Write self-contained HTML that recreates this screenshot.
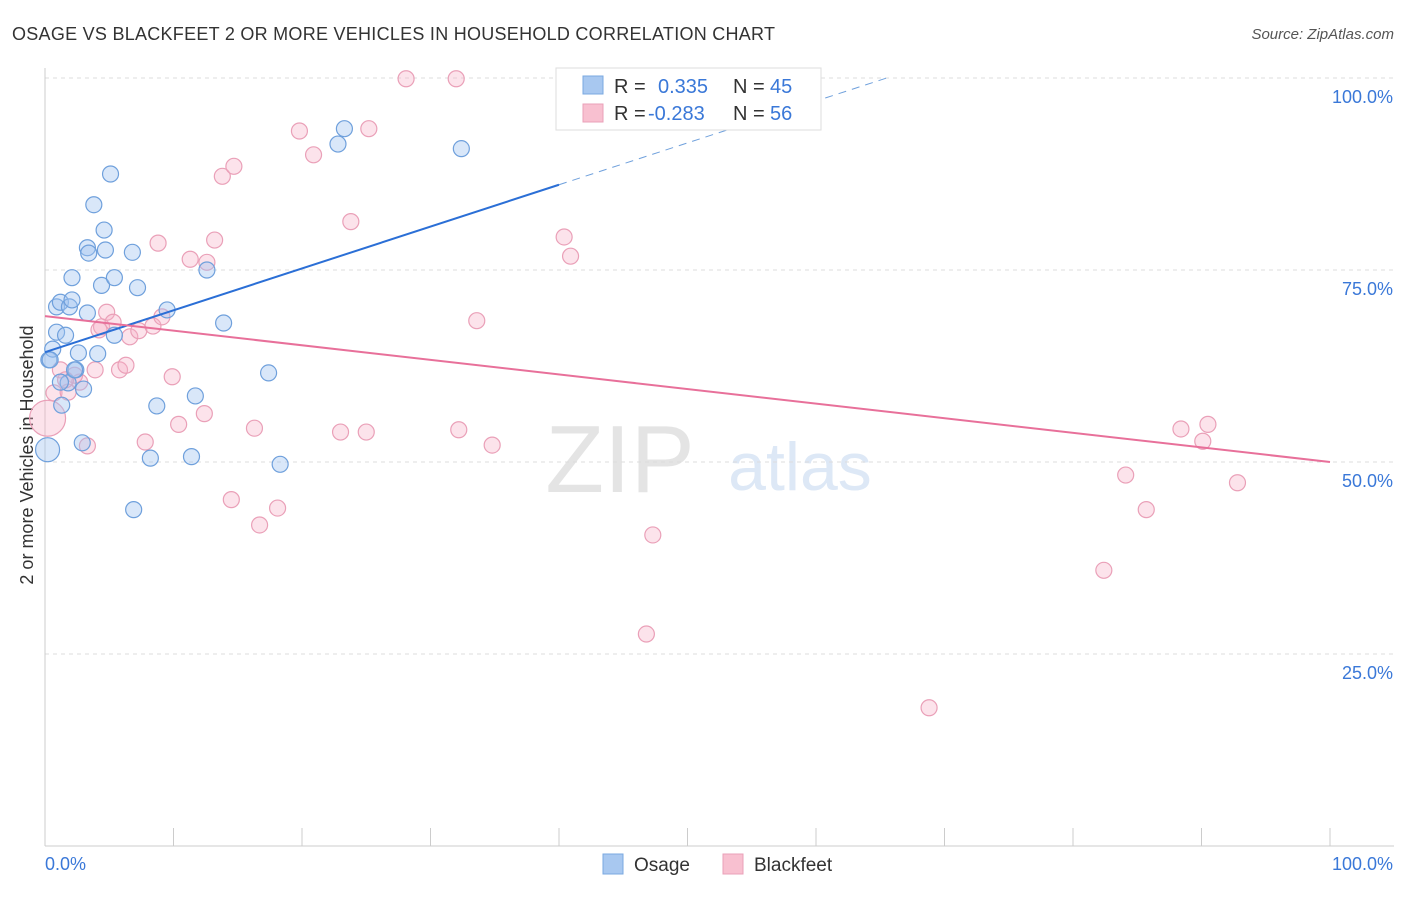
<!DOCTYPE html>
<html><head><meta charset="utf-8"><style>
body{margin:0;background:#fff;font-family:"Liberation Sans",sans-serif}
svg text{font-family:"Liberation Sans",sans-serif}
</style></head><body>
<svg id="c" width="1406" height="892">
<text x="12" y="40" font-size="18" fill="#333" textLength="763" lengthAdjust="spacing">OSAGE VS BLACKFEET 2 OR MORE VEHICLES IN HOUSEHOLD CORRELATION CHART</text>
<text x="1394" y="39" font-size="15" fill="#555" font-style="italic" text-anchor="end">Source: ZipAtlas.com</text>
<text x="620" y="492" font-size="96" fill="#e4e4e4" font-family="Liberation Serif" text-anchor="middle">ZIP</text>
<text x="800" y="490" font-size="68" fill="#dde8f6" text-anchor="middle">atlas</text>
<text transform="translate(33,455) rotate(-90)" font-size="18" fill="#333" text-anchor="middle">2 or more Vehicles in Household</text>
<g id="grid"></g><g id="marks"></g>
<g>
<rect x="556" y="68" width="265" height="62" fill="#fff" stroke="#ddd"/>
<rect x="583" y="76" width="20" height="18" fill="#a8c8f0" stroke="#7aa8e0"/>
<text x="614" y="93" font-size="20" fill="#333">R = </text><text x="658" y="93" font-size="20" fill="#3a78d8">0.335</text>
<text x="733" y="93" font-size="20" fill="#333">N = </text><text x="770" y="93" font-size="20" fill="#3a78d8">45</text>
<rect x="583" y="104" width="20" height="18" fill="#f8c0d0" stroke="#eaa0b8"/>
<text x="614" y="120" font-size="20" fill="#333">R = </text><text x="648" y="120" font-size="20" fill="#3a78d8">-0.283</text>
<text x="733" y="120" font-size="20" fill="#333">N = </text><text x="770" y="120" font-size="20" fill="#3a78d8">56</text>
</g>
<g>
<rect x="603" y="854" width="20" height="20" fill="#a8c8f0" stroke="#7aa8e0"/><text x="634" y="871" font-size="19" fill="#333">Osage</text>
<rect x="723" y="854" width="20" height="20" fill="#f8c0d0" stroke="#eaa0b8"/><text x="754" y="871" font-size="19" fill="#333">Blackfeet</text>
</g>
</svg>
<script>
const blueX=[0.2,0.3,0.6,0.9,0.9,1.2,1.3,1.6,1.8,1.9,2.1,2.1,2.4,2.6,2.9,3.0,3.3,3.3,3.4,3.8,4.1,4.4,4.6,4.7,5.1,5.4,5.4,6.8,6.9,7.2,8.2,8.7,9.5,11.4,11.7,12.6,13.9,17.4,18.3,22.8,23.3,32.4,2.3,1.2,0.4];
const blueY=[51.6,63.3,64.7,70.2,66.9,70.8,57.4,66.5,60.3,70.2,74.0,71.1,62.0,64.2,52.5,59.5,69.4,77.9,77.2,83.5,64.1,73.0,80.2,77.6,87.5,74.0,66.5,77.3,43.8,72.7,50.5,57.3,69.8,50.7,58.6,75.0,68.1,61.6,49.7,91.4,93.4,90.8,62.0,60.4,63.3];
const pinkX=[0.2,0.7,1.2,1.8,2.7,3.3,3.9,4.4,4.8,5.3,5.8,6.3,6.6,7.3,7.8,8.4,8.8,9.1,9.9,10.4,11.3,12.4,12.6,13.2,13.8,14.5,14.7,16.3,16.7,18.1,19.8,20.9,23.0,23.8,25.0,25.2,28.1,32.0,32.2,33.6,34.8,40.4,40.9,46.8,47.3,68.8,82.4,84.1,85.7,88.4,90.1,90.5,92.8,4.2,2.3,1.6];
const pinkY=[55.7,59.0,62.0,59.1,60.4,52.1,62.0,67.6,69.5,68.2,62.0,62.6,66.3,67.1,52.6,67.7,78.5,68.9,61.1,54.9,76.4,56.3,76.0,78.9,87.2,45.1,88.5,54.4,41.8,44.0,93.1,90.0,53.9,81.3,53.9,93.4,99.9,99.9,54.2,68.4,52.2,79.3,76.8,27.6,40.5,18.0,35.9,48.3,43.8,54.3,52.7,54.9,47.3,67.2,61.3,60.7];
const yTicks=[25,50,75,100];
const xTicks=[0,10,20,30,40,50,60,70,80,90,100];
const blueTrend=[64.3,86.1,40];const pinkTrend=[69.0,50.0];
const X=v=>45+v*12.85, Y=v=>846-v*7.68;
const NS="http://www.w3.org/2000/svg";
function mk(t,a,p){const e=document.createElementNS(NS,t);for(const k in a)e.setAttribute(k,a[k]);p.appendChild(e);return e;}
const g=document.getElementById('grid'),m=document.getElementById('marks');
yTicks.forEach(t=>{
 const l=mk('line',{x1:45,x2:1394,y1:Y(t),y2:Y(t),stroke:'#ddd','stroke-dasharray':'4,4'},g);
 
 
 const tx=mk('text',{x:1393,y:Y(t)+25,'font-size':18,fill:'#3a78d8','text-anchor':'end'},g);tx.textContent=t.toFixed(1)+'%';
 
 
});
const ax=mk('line',{x1:45,x2:45,y1:68,y2:846,stroke:'#ccc'},g);


const bx=mk('line',{x1:45,x2:1394,y1:846,y2:846,stroke:'#ccc'},g);


xTicks.forEach(t=>{const l=mk('line',{x1:X(t),x2:X(t),y1:828,y2:846,stroke:'#ccc'},g);
 
 });
[[0,'0.0%','start',45],[100,'100.0%','end',1393]].forEach(a=>{const tx=mk('text',{x:a[3],y:870,'font-size':18,fill:'#3a78d8','text-anchor':a[2]},g);tx.textContent=a[1];
 
 });
pinkX.forEach((v,i)=>{const c=mk('circle',{cx:X(v),cy:Y(pinkY[i]),r:i==0?18:8,fill:'rgba(245,175,198,0.35)',stroke:'#eaa0b8','stroke-width':1.2},m);
 
 });
blueX.forEach((v,i)=>{const c=mk('circle',{cx:X(v),cy:Y(blueY[i]),r:i==0?12:8,fill:'rgba(160,196,240,0.4)',stroke:'#6fa0dc','stroke-width':1.2},m);
 
 });
const bs=(blueTrend[1]-blueTrend[0])/blueTrend[2];
const t1=mk('line',{x1:X(0),y1:Y(blueTrend[0]),x2:X(blueTrend[2]),y2:Y(blueTrend[1]),stroke:'#2b6fd6','stroke-width':2},m);


const xe=(100-blueTrend[0])/bs;
const t2=mk('line',{x1:X(blueTrend[2]),y1:Y(blueTrend[1]),x2:X(xe),y2:Y(100),stroke:'#6fa0dc','stroke-width':1,'stroke-dasharray':'8,6'},m);


const t3=mk('line',{x1:X(0),y1:Y(pinkTrend[0]),x2:X(100),y2:Y(pinkTrend[1]),stroke:'#e8709a','stroke-width':2},m);


</script>
</body></html>
